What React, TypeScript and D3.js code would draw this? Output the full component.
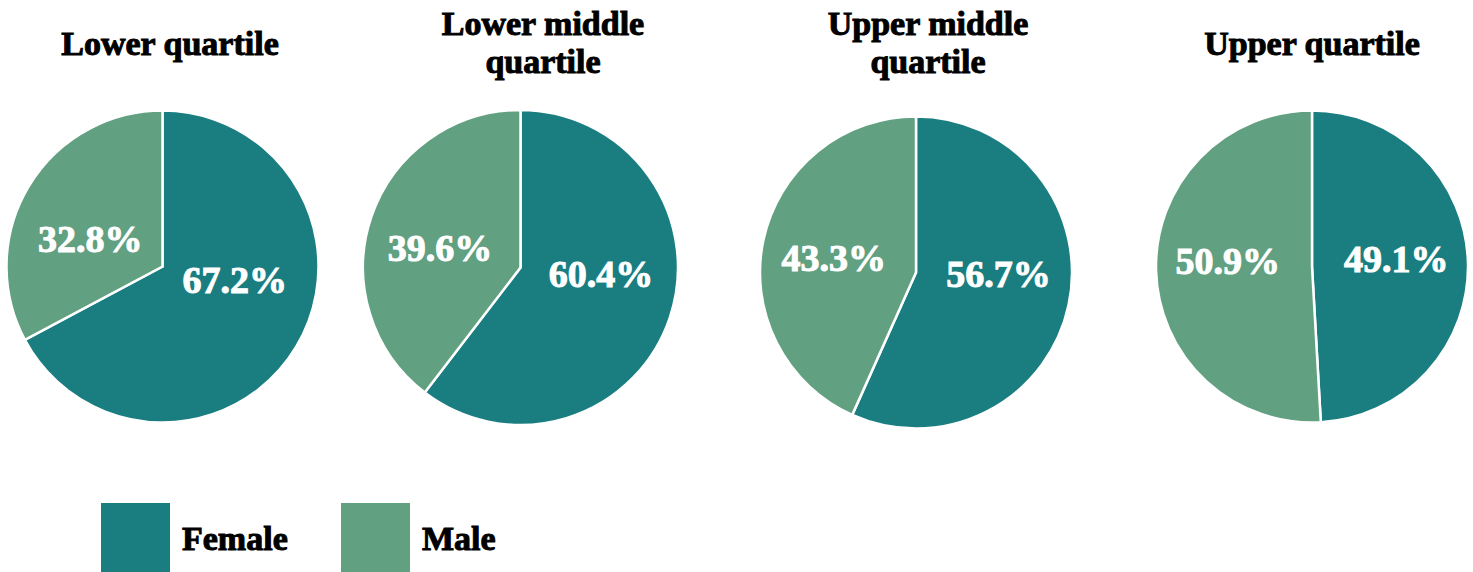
import React from "react";
import * as d3 from "d3";

const quartiles = ["Lower quartile", "Lower middle quartile", "Upper middle quartile", "Upper quartile"];
const titleLines = [["Lower quartile"], ["Lower middle", "quartile"], ["Upper middle", "quartile"], ["Upper quartile"]];
const genders = ["Female", "Male"];
const femaleValues = [67.2, 60.4, 56.7, 49.1];
const maleValues = [32.8, 39.6, 43.3, 50.9];

// layout (not data)
const W = 1473;
const H = 572;
const pieCx = [162.5, 520.5, 916, 1312];
const pieCy = [266.5, 267.5, 272.5, 266.5];
const pieR = [156, 157.5, 156, 156];
const titleCx = [170, 543, 928, 1312];

const COLORS: Record<string, string> = { Female: "#1a7e81", Male: "#62a082" };
const FONT = "'Liberation Serif', 'DejaVu Serif', serif";

export default function App() {
  const pie = d3
    .pie<{ g: string; v: number }>()
    .sort(null)
    .value((d) => d.v)
    .startAngle(0)
    .endAngle(2 * Math.PI);

  return (
    <svg
      width={W}
      height={H}
      viewBox={`0 0 ${W} ${H}`}
      style={{ position: "absolute", left: 0, top: 0, background: "#fff" }}
    >
      {quartiles.map((q, i) => {
        const data = [
          { g: genders[0], v: femaleValues[i] },
          { g: genders[1], v: maleValues[i] },
        ];
        const arcs = pie(data);
        const R = pieR[i];
        const arc = d3.arc<d3.PieArcDatum<{ g: string; v: number }>>().innerRadius(0).outerRadius(R);
        const labelArc = d3
          .arc<d3.PieArcDatum<{ g: string; v: number }>>()
          .innerRadius(R * 1.08)
          .outerRadius(0);
        const lines = titleLines[i];
        const single = lines.length === 1;
        return (
          <g key={q}>
            <text
              x={titleCx[i]}
              y={single ? 55 : 35}
              textAnchor="middle"
              fontFamily={FONT}
              fontWeight="bold"
              fontSize={34}
              fill="#000"
              stroke="#000"
              strokeWidth={1}
            >
              {lines.map((l, k) => (
                <tspan key={k} x={titleCx[i]} dy={k === 0 ? 0 : 38}>
                  {l}
                </tspan>
              ))}
            </text>
            <g transform={`translate(${pieCx[i]},${pieCy[i]})`}>
              {arcs.map((a) => (
                <path key={a.data.g} d={arc(a) || ""} fill={COLORS[a.data.g]} stroke="#fff" strokeWidth={2.5} />
              ))}
              {arcs.map((a) => {
                const [cx, cy] = labelArc.centroid(a);
                return (
                  <text
                    key={"l" + a.data.g}
                    x={cx}
                    y={cy * 0.47 - 7}
                    dy="0.35em"
                    textAnchor="middle"
                    fontFamily={FONT}
                    fontWeight="bold"
                    fontSize={38}
                    fill="#fff"
                    stroke="#fff"
                    strokeWidth={1}
                  >
                    {d3.format(".1f")(a.data.v) + "%"}
                  </text>
                );
              })}
            </g>
          </g>
        );
      })}
      {genders.map((g, i) => {
        const x0 = 101 + i * 240;
        return (
          <g key={g}>
            <rect x={x0} y={503} width={69} height={75} fill={COLORS[g]} />
            <text
              x={x0 + 81}
              y={550}
              fontFamily={FONT}
              fontWeight="bold"
              fontSize={34}
              fill="#000"
              stroke="#000"
              strokeWidth={1}
            >
              {g}
            </text>
          </g>
        );
      })}
    </svg>
  );
}
